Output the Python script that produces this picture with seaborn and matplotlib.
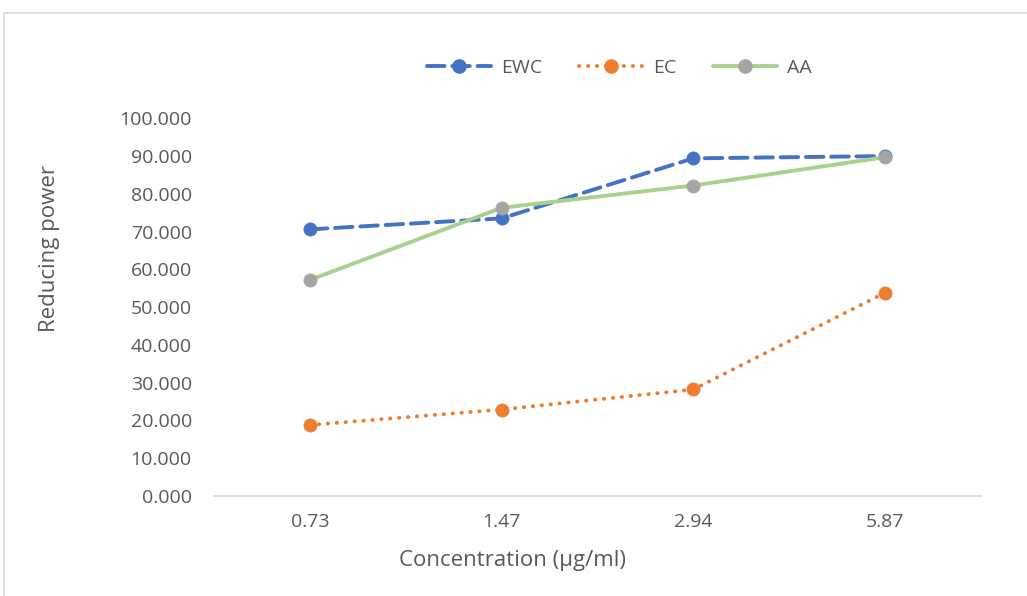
import matplotlib
matplotlib.use("Agg")
import matplotlib.pyplot as plt
import seaborn as sns
import pandas as pd
from matplotlib.lines import Line2D

# ---- data ----
concentrations = ["0.73", "1.47", "2.94", "5.87"]
ewc = [70.6, 73.5, 89.4, 90.0]
ec = [18.8, 22.9, 28.2, 53.8]
aa = [57.2, 76.3, 82.2, 89.7]
series_names = ["EWC", "EC", "AA"]

sns.set_theme(style="white")
plt.rcParams["font.family"] = ["Open Sans", "DejaVu Sans"]

TXT = "#595959"
FS = 14

fig = plt.figure(figsize=(10.27, 5.96), dpi=100)
ax = fig.add_axes([0.2084, 0.1678, 0.7466, 0.6337])

lw = 2.8
ms = 9.5

styles = {
    "EWC": dict(color="#4472C4", mfc="#4472C4", ls=(0, (4.5, 2)), cap="round"),
    "EC": dict(color="#ED7D31", mfc="#ED7D31", ls=(0, (0.1, 2.2)), cap="round"),
    "AA": dict(color="#A9D18E", mfc="#A5A5A5", ls="-", cap="round"),
}

data = {"EWC": ewc, "EC": ec, "AA": aa}
handles = []
for name in series_names:
    st = styles[name]
    df = pd.DataFrame({"x": concentrations, "y": data[name]})
    n_before = len(ax.lines)
    sns.lineplot(data=df, x="x", y="y", ax=ax, color=st["color"], linewidth=lw,
                 marker="o", markersize=ms, markerfacecolor=st["mfc"],
                 markeredgecolor=st["mfc"], markeredgewidth=0.5, sort=False)
    line = ax.lines[n_before]
    line.set_linestyle(st["ls"])
    line.set_dash_capstyle(st["cap"])
    line.set_solid_capstyle("round")
    line.set_clip_on(False)
    handles.append(Line2D([], [], color=st["color"], linewidth=lw, linestyle=st["ls"],
                          dash_capstyle=st["cap"], marker="o", markersize=ms,
                          markerfacecolor=st["mfc"], markeredgecolor=st["mfc"]))

ax.set_xlim(-0.5, 3.5)
ax.set_ylim(0, 100)
ax.set_yticks(range(0, 101, 10))
ax.set_yticklabels([f"{v:.3f}" for v in range(0, 101, 10)])
ax.tick_params(axis="both", length=0, labelsize=FS, labelcolor=TXT)
ax.tick_params(axis="y", pad=16)
ax.tick_params(axis="x", pad=12)
ax.grid(False)
for s in ["top", "right", "left"]:
    ax.spines[s].set_visible(False)
ax.spines["bottom"].set_color("#D9D9D9")
ax.spines["bottom"].set_linewidth(1.3)

ax.set_xlabel("Concentration (µg/ml)", fontsize=16, color=TXT, va="center", ha="center")
ax.xaxis.set_label_coords(0.389, -0.172)
ax.set_ylabel("Reducing power", fontsize=16, color=TXT, va="center", ha="center")
ax.yaxis.set_label_coords(-0.214, 0.654)

leg = fig.legend(handles, series_names, loc="center", bbox_to_anchor=(0.603, 0.886),
                 ncol=3, frameon=False, fontsize=FS, handlelength=3.3,
                 columnspacing=1.9, handletextpad=0.5)
for t in leg.get_texts():
    t.set_color(TXT)

# outer chart border (left and top edges visible)
fig.add_artist(Line2D([4 / 1027, 4 / 1027], [0, 1 - 13 / 596], transform=fig.transFigure,
                      color="#D9D9D9", linewidth=1.2))
fig.add_artist(Line2D([4 / 1027, 1], [1 - 13 / 596, 1 - 13 / 596], transform=fig.transFigure,
                      color="#D9D9D9", linewidth=1.2))

fig.savefig("out.png", dpi=100)
